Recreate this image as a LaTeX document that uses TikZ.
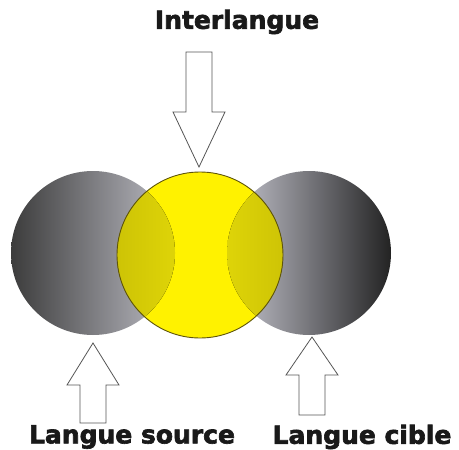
\documentclass[tikz,border=0pt]{standalone}
\usepackage{fontspec}
\setmainfont{DejaVu Sans}[BoldFeatures={FakeBold=2.5}]
\usetikzlibrary{positioning}

\definecolor{lemon}{RGB}{255,242,0}
\definecolor{rimcolor}{RGB}{95,85,10}
\definecolor{leftdark}{RGB}{60,60,60}
\definecolor{leftlight}{RGB}{190,190,198}
\definecolor{rightlight}{RGB}{200,200,210}
\definecolor{rightdark}{RGB}{35,35,35}
\definecolor{mixdark}{RGB}{175,165,0}
\definecolor{mixlight}{RGB}{222,212,8}
\definecolor{textgray}{RGB}{25,25,25}
\definecolor{arrowgray}{RGB}{85,85,85}

\begin{document}
\begin{tikzpicture}[x=1pt,y=-1pt,
  tag/.style={font=\bfseries\fontsize{25}{25}\selectfont, text=textgray, inner sep=0pt},
  disc/.style={circle, minimum size=164pt, inner sep=0pt},
  pics/blockarrow/.style n args={2}{code={
    \draw[arrowgray, line width=0.8pt, fill=white, line join=miter]
      (0,0) -- (26,-#2) -- (13,-#2) -- (13,-#1) -- (-13,-#1) -- (-13,-#2) -- (-26,-#2) -- cycle;}}
]
\useasboundingbox (0,0) rectangle (459,450);

% the three languages
\node[disc, left color=leftdark, right color=leftlight] (source) at (93,253) {};
\node[disc, left color=rightlight, right color=rightdark] (target) at (309,253) {};
\node[disc, minimum size=166pt, fill=lemon] (inter) at (200,255) {};

% overlaps seen through the yellow disc
\begin{scope}
  \clip (inter.center) circle (83);
  \fill[left color=mixdark, right color=mixlight] (source.center) circle (82);
  \fill[left color=mixlight, right color=mixdark] (target.center) circle (82);
\end{scope}
\draw[rimcolor, line width=0.9pt] (inter.center) circle (83);

% block arrows
\pic at (199,167) {blockarrow={115}{55}};
\pic[rotate=180] at (93,343) {blockarrow={80}{42}};
\pic[rotate=180] at (312,337) {blockarrow={78}{38}};

% labels
\node[tag] (intertag) at (237,22) {Interlangue};
\node[tag] (sourcetag) at (132,437) {Langue source};
\node[tag] (targettag) at (362,437) {Langue cible};
\end{tikzpicture}
\end{document}
